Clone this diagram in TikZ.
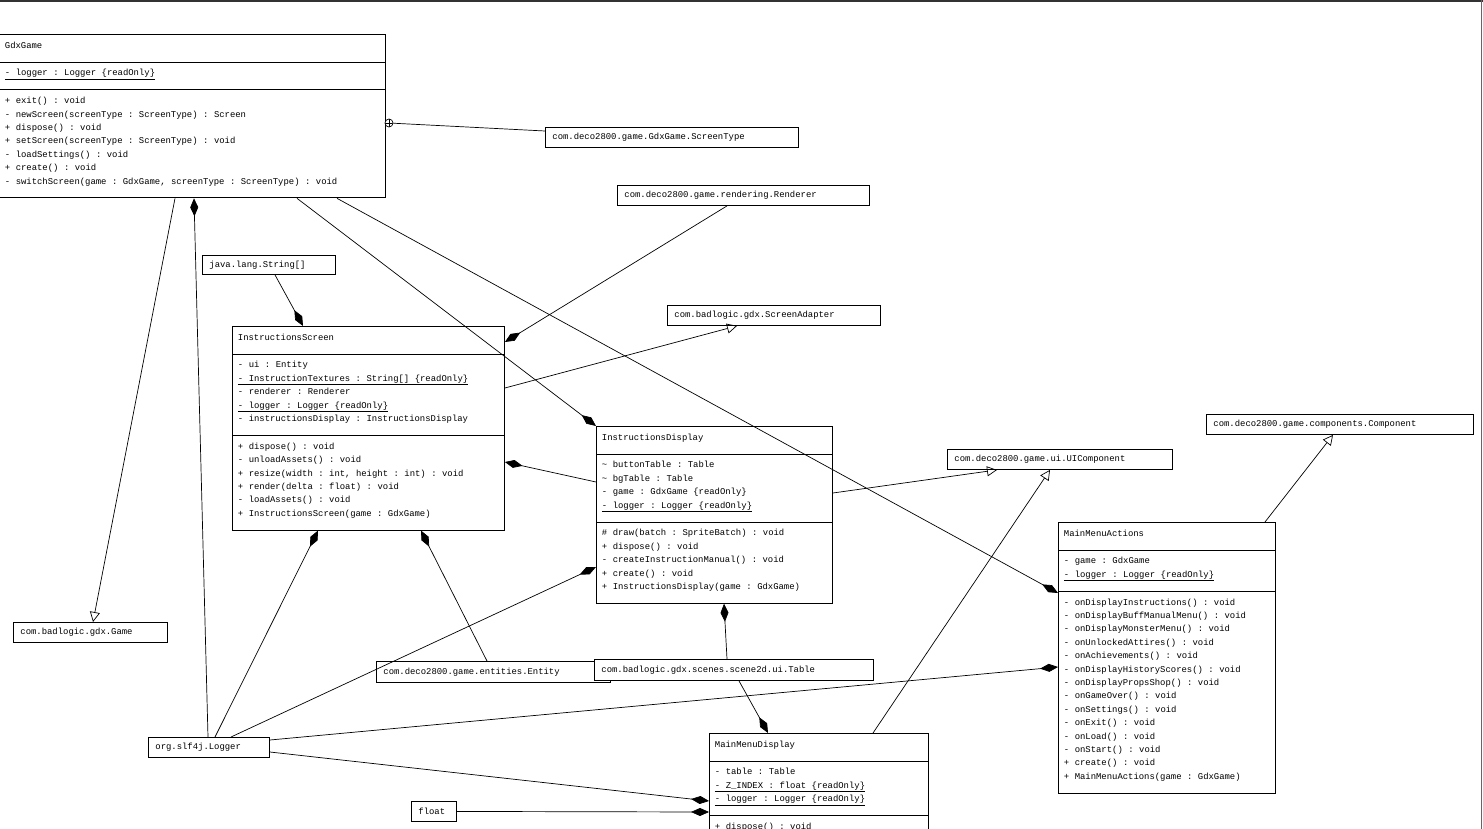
\documentclass[tikz,border=0pt]{standalone}
\usepackage{fontspec}
\newfontfamily\umlfont{Liberation Mono}
\usetikzlibrary{shapes.multipart,arrows.meta,calc}

\newcommand{\lignes}[1]{\spaceskip=5.5pt\xspaceskip=5.5pt\strut#1\rule[-9.4pt]{0pt}{0pt}}
\newcommand{\umltexte}{\umlfont\fontsize{8.9}{13.4}\selectfont\frenchspacing}

\tikzset{
	classe/.style={rectangle split,rectangle split parts=3,draw,line width=0.9pt,fill=white,anchor=north west,
		inner xsep=5.5pt,inner ysep=4pt,align=flush left,font=\umltexte},
	boite/.style={draw,line width=0.9pt,fill=white,anchor=north west,inner xsep=7pt,inner ysep=0pt,
		minimum height=20pt,align=flush left,font=\umltexte},
	lien/.style={line width=0.7pt},
	compo/.style={lien,-{Diamond[length=18pt,width=8pt]}},
	herite/.style={lien,-{Triangle[open,length=10pt,width=10pt]}},
}

\begin{document}
\begin{tikzpicture}[x=1pt,y=-1pt]
		\useasboundingbox (0,0) rectangle (1483,829);
		\clip (0,0) rectangle (1483,829);
		%Cadre
		\draw[line width=2pt,black!80] (0,1) -- (1483,1);
		\draw[line width=0.8pt,black!60] (1481,0) -- (1481,829);

		% Classes
		\node[classe,text width=375pt] (gdx) at (-1,34) {\lignes{GdxGame}
			\nodepart{two}\lignes{\underline{- logger : Logger \{readOnly\}}}
			\nodepart{three}\lignes{+ exit() : void\\
				- newScreen(screenType : ScreenType) : Screen\\
				+ dispose() : void\\
				+ setScreen(screenType : ScreenType) : void\\
				- loadSettings() : void\\
				+ create() : void\\
				- switchScreen(game : GdxGame, screenType : ScreenType) : void}};
		\node[classe,text width=261pt] (iscreen) at (232,326) {\lignes{InstructionsScreen}
			\nodepart{two}\lignes{- ui : Entity\\
				\underline{- InstructionTextures : String[] \{readOnly\}}\\
				- renderer : Renderer\\
				\underline{- logger : Logger \{readOnly\}}\\
				- instructionsDisplay : InstructionsDisplay}
			\nodepart{three}\lignes{+ dispose() : void\\
				- unloadAssets() : void\\
				+ resize(width : int, height : int) : void\\
				+ render(delta : float) : void\\
				- loadAssets() : void\\
				+ InstructionsScreen(game : GdxGame)}};
		\node[classe,text width=225pt] (idisplay) at (596,426) {\lignes{InstructionsDisplay}
			\nodepart{two}\lignes{\textasciitilde{} buttonTable : Table\\
				\textasciitilde{} bgTable : Table\\
				- game : GdxGame \{readOnly\}\\
				\underline{- logger : Logger \{readOnly\}}}
			\nodepart{three}\lignes{\# draw(batch : SpriteBatch) : void\\
				+ dispose() : void\\
				- createInstructionManual() : void\\
				+ create() : void\\
				+ InstructionsDisplay(game : GdxGame)}};
		\node[classe,text width=206pt] (mmactions) at (1058,522) {\lignes{MainMenuActions}
			\nodepart{two}\lignes{- game : GdxGame\\
				\underline{- logger : Logger \{readOnly\}}}
			\nodepart{three}\lignes{- onDisplayInstructions() : void\\
				- onDisplayBuffManualMenu() : void\\
				- onDisplayMonsterMenu() : void\\
				- onUnlockedAttires() : void\\
				- onAchievements() : void\\
				- onDisplayHistoryScores() : void\\
				- onDisplayPropsShop() : void\\
				- onGameOver() : void\\
				- onSettings() : void\\
				- onExit() : void\\
				- onLoad() : void\\
				- onStart() : void\\
				+ create() : void\\
				+ MainMenuActions(game : GdxGame)}};
		\node[classe,text width=208pt] (mmdisplay) at (709,733) {\lignes{MainMenuDisplay}
			\nodepart{two}\lignes{- table : Table\\
				\underline{- Z\_INDEX : float \{readOnly\}}\\
				\underline{- logger : Logger \{readOnly\}}}
			\nodepart{three}\lignes{+ dispose() : void}};

		% Types externes
		\node[boite,text width=239pt] (stype) at (545,127) {com.deco2800.game.GdxGame.ScreenType};
		\node[boite,text width=238pt] (renderer) at (617,185) {com.deco2800.game.rendering.Renderer};
		\node[boite,text width=119pt,minimum height=19pt] (strarr) at (202,255) {java.lang.String[]};
		\node[boite,text width=199pt] (sadapter) at (667,305) {com.badlogic.gdx.ScreenAdapter};
		\node[boite,text width=253pt] (component) at (1206,414) {com.deco2800.game.components.Component};
		\node[boite,text width=211pt] (uicomp) at (947,449) {com.deco2800.game.ui.UIComponent};
		\node[boite,text width=140pt] (game) at (13,622) {com.badlogic.gdx.Game};
		\node[boite,text width=220pt,minimum height=21pt] (entity) at (376,661) {com.deco2800.game.entities.Entity};
		\node[boite,text width=265pt,minimum height=21pt] (table) at (594,659) {com.badlogic.gdx.scenes.scene2d.ui.Table};
		\node[boite,text width=107pt] (logger) at (148,737) {org.slf4j.Logger};
		\node[boite,text width=31pt] (float) at (411,801) {float};

		% Liens
		\node[circle,draw,lien,fill=white,minimum size=8pt,inner sep=0pt,
			path picture={\draw[lien] (path picture bounding box.north) -- (path picture bounding box.south)
				(path picture bounding box.west) -- (path picture bounding box.east);}] (gdxnest) at (389,123) {};
		\draw[lien] (gdxnest) -- ($(stype.north west)+(0,4)$);
		\draw[herite] ($(gdx.south west)+(176,0)$) -- ($(game.north west)+(80,0)$);
		\draw[compo] ($(gdx.south west)+(298,0)$) -- (idisplay.north west);
		\draw[compo] ($(gdx.south west)+(338,0)$) -- ($(mmactions.north west)+(0,71)$);
		\draw[compo] ($(strarr.south west)+(73,0)$) -- ($(iscreen.north west)+(71,0)$);
		\draw[compo] ($(renderer.south west)+(110,0)$) -- ($(iscreen.north east)+(0,16)$);
		\draw[herite] ($(iscreen.north east)+(0,62)$) -- ($(sadapter.south west)+(70,0)$);
		\draw[compo] ($(idisplay.north west)+(0,56)$) -- ($(iscreen.north east)+(0,136)$);
		\draw[compo] ($(entity.north west)+(111,0)$) -- ($(iscreen.south west)+(189,0)$);
		\draw[herite] ($(idisplay.north east)+(0,67)$) -- ($(uicomp.south west)+(50,0)$);
		\draw[herite] ($(mmdisplay.north west)+(164,0)$) -- ($(uicomp.south west)+(103,0)$);
		\draw[herite] ($(mmactions.north west)+(207,0)$) -- ($(component.south west)+(127,0)$);
		\draw[compo] ($(table.north west)+(133,0)$) -- ($(idisplay.south west)+(128,0)$);
		\draw[compo] ($(table.south west)+(145,0)$) -- ($(mmdisplay.north west)+(59,0)$);
		\draw[compo] ($(logger.north west)+(60,0)$) -- ($(gdx.south west)+(195,0)$);
		\draw[compo] ($(logger.north west)+(67,0)$) -- ($(iscreen.south west)+(86,0)$);
		\draw[compo] ($(logger.north west)+(83,0)$) -- ($(idisplay.north west)+(0,141)$);
		\draw[compo] ($(logger.north east)+(0,3)$) -- ($(mmactions.north west)+(0,145)$);
		\draw[compo] ($(logger.north east)+(0,15)$) -- ($(mmdisplay.north west)+(0,68)$);
		\draw[compo] (float.east) -- ($(mmdisplay.north west)+(0,79)$);
\end{tikzpicture}
\end{document}
